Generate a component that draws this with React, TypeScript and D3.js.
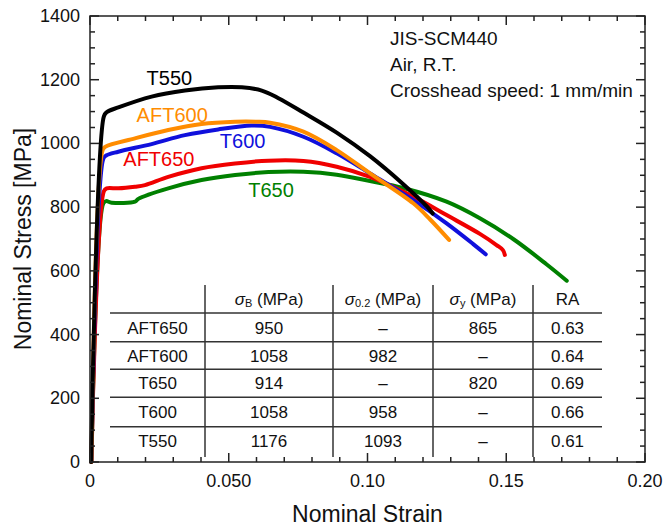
import React from "react";
import * as d3 from "d3";

// stress-strain curves (strain, stress in MPa)
const t550Strain = [0.0004, 0.005, 0.006, 0.0102, 0.0222, 0.0342, 0.0462, 0.0547, 0.0619, 0.0679, 0.0769, 0.0889, 0.1009, 0.1129, 0.1213, 0.1235];
const t550Stress = [0, 1085, 1098, 1113, 1147, 1166, 1176, 1176, 1166, 1142, 1097, 1034, 960, 872, 803, 780];

const aft600Strain = [0.0005, 0.0046, 0.0056, 0.0162, 0.0282, 0.0402, 0.0523, 0.06, 0.0649, 0.0769, 0.0889, 0.1009, 0.1165, 0.1225, 0.1294];
const aft600Stress = [0, 980, 990, 1016, 1042, 1061, 1068, 1068, 1065, 1037, 979, 906, 812, 762, 697];

const t600Strain = [0.0005, 0.0048, 0.0058, 0.0102, 0.0222, 0.0342, 0.0462, 0.0583, 0.0649, 0.0769, 0.0889, 0.1009, 0.1165, 0.1285, 0.1381, 0.1426];
const t600Stress = [0, 952, 962, 974, 998, 1026, 1044, 1056, 1052, 1021, 969, 906, 822, 749, 684, 652];

const aft650Strain = [0.0005, 0.005, 0.006, 0.0102, 0.0162, 0.0198, 0.0282, 0.0402, 0.0523, 0.0643, 0.0769, 0.0889, 0.1009, 0.1165, 0.1285, 0.1405, 0.1465, 0.1488, 0.1495];
const aft650Stress = [0, 850, 859, 859, 864, 869, 895, 922, 937, 946, 945, 927, 895, 833, 775, 716, 681, 665, 650];

const t650Strain = [0.0005, 0.0048, 0.0058, 0.0078, 0.0162, 0.0174, 0.0282, 0.0402, 0.0523, 0.0643, 0.0769, 0.0889, 0.1009, 0.1129, 0.1285, 0.1405, 0.1525, 0.1646, 0.1718];
const t650Stress = [0, 812, 819, 814, 817, 826, 859, 885, 901, 910, 911, 902, 882, 860, 817, 765, 700, 620, 569];

const curves = [
  { name: "T650", strain: t650Strain, stress: t650Stress, color: "#008000", lx: 0.057, ly: 833 },
  { name: "AFT650", strain: aft650Strain, stress: aft650Stress, color: "#f00000", lx: 0.012, ly: 929 },
  { name: "T600", strain: t600Strain, stress: t600Stress, color: "#1010dc", lx: 0.0468, ly: 985 },
  { name: "AFT600", strain: aft600Strain, stress: aft600Stress, color: "#ff8c00", lx: 0.0168, ly: 1068 },
  { name: "T550", strain: t550Strain, stress: t550Stress, color: "#000000", lx: 0.0204, ly: 1183 },
];

const xTicks = [0, 0.05, 0.1, 0.15, 0.2];
const xTickLabels = ["0", "0.050", "0.10", "0.15", "0.20"];
const yTicks = [0, 200, 400, 600, 800, 1000, 1200, 1400];

const notes = ["JIS-SCM440", "Air, R.T.", "Crosshead speed: 1 mm/min"];

// table
const rowNames = ["AFT650", "AFT600", "T650", "T600", "T550"];
const sigmaB = ["950", "1058", "914", "1058", "1176"];
const sigma02 = ["–", "982", "–", "958", "1093"];
const sigmaY = ["865", "–", "820", "–", "–"];
const ra = ["0.63", "0.64", "0.69", "0.66", "0.61"];

const W = 664;
const H = 530;
const left = 90;
const right = 645;
const top = 16;
const bottom = 462;
const font = "'Liberation Sans', Arial, sans-serif";

export default function App() {
  const x = d3.scaleLinear().domain([0, 0.2]).range([left, right]);
  const y = d3.scaleLinear().domain([0, 1400]).range([bottom, top]);

  const line = d3
    .line<[number, number]>()
    .x(d => x(d[0]))
    .y(d => y(d[1]))
    .curve(d3.curveCatmullRom.alpha(0.5));

  const xMinor = d3.range(0, 0.2001, 0.01);
  const yMinor = d3.range(0, 1401, 50);

  // table layout
  const colX = [110, 205, 333, 433, 533, 602];
  const headerLine = 313;
  const rowLines = [341.7, 369.3, 397.3, 426.7];
  const rowY = [328, 356, 383.5, 412, 441];
  const mid = (i: number) => (colX[i] + colX[i + 1]) / 2;

  const sub = (s: string, t: string) => (
    <>
      <tspan fontStyle="italic">{s}</tspan>
      <tspan fontSize={11} dy={4}>{t}</tspan>
      <tspan dy={-4}> (MPa)</tspan>
    </>
  );

  return (
    <div style={{ position: "absolute", left: 0, top: 0 }}>
      <svg width={W} height={H} style={{ display: "block", background: "#fff" }} fontFamily={font}>
        {/* curves */}
        {curves.map(c => (
          <path
            key={c.name}
            d={line(c.strain.map((s, i) => [s, c.stress[i]] as [number, number])) || ""}
            fill="none"
            stroke={c.color}
            strokeWidth={4}
            strokeLinecap="round"
            strokeLinejoin="round"
          />
        ))}
        {curves.map(c => (
          <text key={c.name + "l"} x={x(c.lx)} y={y(c.ly)} fontSize={20} fill={c.color}>
            {c.name}
          </text>
        ))}

        {/* notes */}
        {notes.map((n, i) => (
          <text key={n} x={x(0.1081)} y={45 + i * 26} fontSize={19} fill="#111">
            {n}
          </text>
        ))}

        {/* table */}
        <g stroke="#333" strokeWidth={1.5}>
          <line x1={colX[0]} x2={colX[5]} y1={headerLine} y2={headerLine} />
          {rowLines.map(v => (
            <line key={v} x1={colX[0]} x2={colX[5]} y1={v} y2={v} />
          ))}
          {colX.slice(1, 5).map(v => (
            <line key={v} x1={v} x2={v} y1={285} y2={457} />
          ))}
        </g>
        <g fontSize={17} fill="#111" textAnchor="middle" dominantBaseline="central">
          <text x={mid(1)} y={299}>{sub("σ", "B")}</text>
          <text x={mid(2)} y={299}>{sub("σ", "0.2")}</text>
          <text x={mid(3)} y={299}>{sub("σ", "y")}</text>
          <text x={mid(4)} y={299}>RA</text>
          {rowNames.map((r, i) => (
            <g key={r}>
              <text x={mid(0)} y={rowY[i]}>{r}</text>
              <text x={mid(1)} y={rowY[i]}>{sigmaB[i]}</text>
              <text x={mid(2)} y={rowY[i]}>{sigma02[i]}</text>
              <text x={mid(3)} y={rowY[i]}>{sigmaY[i]}</text>
              <text x={mid(4)} y={rowY[i]}>{ra[i]}</text>
            </g>
          ))}
        </g>

        {/* frame and ticks */}
        <g stroke="#222" strokeWidth={1.5}>
          {xMinor.map((v, i) => {
            const len = i % 5 === 0 ? 9 : 5;
            return (
              <g key={"x" + i}>
                <line x1={x(v)} x2={x(v)} y1={bottom} y2={bottom - len} />
                <line x1={x(v)} x2={x(v)} y1={top} y2={top + len} />
              </g>
            );
          })}
          {yMinor.map((v, i) => {
            const len = i % 4 === 0 ? 9 : 5;
            return (
              <g key={"y" + i}>
                <line x1={left} x2={left + len} y1={y(v)} y2={y(v)} />
                <line x1={right} x2={right - len} y1={y(v)} y2={y(v)} />
              </g>
            );
          })}
          <rect x={left} y={top} width={right - left} height={bottom - top} fill="none" />
        </g>

        {/* tick labels */}
        <g fontSize={18} fill="#111">
          {xTicks.map((v, i) => (
            <text key={v} x={x(v)} y={bottom + 25} textAnchor="middle">
              {xTickLabels[i]}
            </text>
          ))}
          {yTicks.map(v => (
            <text key={v} x={left - 10} y={y(v)} textAnchor="end" dominantBaseline="central">
              {v}
            </text>
          ))}
        </g>

        {/* axis titles */}
        <text x={(left + right) / 2} y={522} fontSize={23} textAnchor="middle" fill="#111">
          Nominal Strain
        </text>
        <text
          transform={`translate(31, ${(top + bottom) / 2}) rotate(-90)`}
          fontSize={23}
          textAnchor="middle"
          fill="#111"
        >
          Nominal Stress [MPa]
        </text>
      </svg>
    </div>
  );
}
